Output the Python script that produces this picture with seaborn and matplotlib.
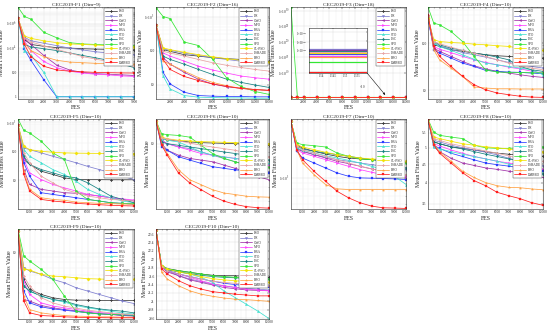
import numpy as np
import matplotlib
matplotlib.use("Agg")
import matplotlib.pyplot as plt
import seaborn as sns
from matplotlib.ticker import FixedLocator, FuncFormatter, NullFormatter, NullLocator, LogLocator, MultipleLocator, FixedFormatter

ALGS = ['PSO', 'DE', 'GWO', 'MFO', 'HBA', 'STO', 'LSC', 'SPO', 'CL-PSO', 'LSHADE', 'BBO', 'DMBBO']
COLORS = ['#3a3a3a', '#7f7fd0', '#a030a8', '#ff40ff', '#2a3cff', '#40e0d0',
          '#148080', '#33e633', '#f2e200', '#e8a4a4', '#ffa040', '#ff1f1f']
MARKERS = ['P', 'v', '<', '>', 's', '^', 'd', 'o', 'D', 'P', '*', 's']

TITLES = ['CEC2019-F1 (Dim=9)', 'CEC2019-F2 (Dim=16)', 'CEC2019-F3 (Dim=18)', 'CEC2019-F4 (Dim=10)',
          'CEC2019-F5 (Dim=10)', 'CEC2019-F6 (Dim=10)', 'CEC2019-F7 (Dim=10)', 'CEC2019-F8 (Dim=10)',
          'CEC2019-F9 (Dim=10)', 'CEC2019-F10 (Dim=10)']

F1_FES = [0, 500, 1000, 2000, 3000, 4000, 5000, 6000, 7000, 8000, 9000]
F1 = {
    'PSO': [2.8e6, 5.0e4, 2.0e4, 1.4e4, 1.1e4, 1.0e4, 8.9e3, 8.3e3, 7.9e3, 7.6e3, 7.2e3],
    'DE': [2.8e6, 7.9e4, 4.0e4, 2.5e4, 1.6e4, 1.0e4, 7.1e3, 5.0e3, 4.0e3, 3.2e3, 2.8e3],
    'GWO': [2.8e6, 6.3e4, 2.0e4, 2.5e3, 400, 160, 100, 79, 71, 63, 56],
    'MFO': [2.8e6, 4.0e4, 6.3e3, 790, 250, 126, 89, 71, 63, 52, 47],
    'HBA': [2.8e6, 7.9e3, 1.0e3, 25, 1, 1, 1, 1, 1, 1, 1],
    'STO': [2.8e6, 6.3e3, 2.8e3, 100, 1, 1, 1, 1, 1, 1, 1],
    'LSC': [2.8e6, 2.0e4, 1.26e4, 8.9e3, 6.3e3, 4.0e3, 2.5e3, 1.6e3, 1.0e3, 500, 250],
    'SPO': [2.3e7, 4.0e6, 2.4e6, 2.0e5, 7.1e4, 2.8e4, 2.2e4, 2.0e4, 1.8e4, 1.7e4, 1.6e4],
    'CL-PSO': [2.8e6, 1.0e5, 6.3e4, 4.0e4, 2.8e4, 2.2e4, 2.0e4, 1.8e4, 1.6e4, 1.4e4, 1.26e4],
    'LSHADE': [2.8e6, 6.3e4, 3.2e4, 1.6e4, 7.9e3, 4.0e3, 2.0e3, 1.26e3, 790, 500, 320],
    'BBO': [2.8e6, 2.5e4, 6.3e3, 2.0e3, 1.0e3, 710, 630, 560, 525, 500, 480],
    'DMBBO': [2.8e6, 2.0e4, 2.0e3, 320, 160, 126, 112, 100, 95, 91, 89],
}

F2_FES = [0, 1000, 2000, 4000, 6000, 8000, 10000, 12000, 14000, 16000]
F2 = {
    'PSO': [562, 107, 95, 76, 69, 62, 58, 55, 52, 49],
    'DE': [562, 112, 102, 85, 72, 62, 55, 49, 46, 44],
    'GWO': [562, 62, 40, 23, 14.5, 10.5, 8.7, 7.8, 7.2, 6.8],
    'MFO': [562, 85, 69, 49, 35, 27, 22, 18, 16, 14.5],
    'HBA': [562, 23, 10.5, 6.0, 4.8, 4.6, 4.5, 4.5, 4.4, 4.4],
    'STO': [562, 18.2, 7.5, 4.8, 4.3, 4.2, 4.1, 4.1, 4.0, 4.0],
    'LSC': [562, 69, 55, 40, 28, 20, 14.5, 11.7, 9.8, 8.3],
    'SPO': [1820, 1000, 870, 178, 141, 56, 15.8, 8.9, 6.3, 5.2],
    'CL-PSO': [562, 120, 107, 89, 76, 66, 58, 52, 49, 46],
    'LSHADE': [562, 95, 85, 69, 55, 44, 37, 32, 28, 25],
    'BBO': [562, 49, 40, 25, 16.2, 11.7, 9.3, 7.8, 7.2, 6.8],
    'DMBBO': [562, 55, 28, 17.4, 13.2, 10.5, 8.9, 7.8, 7.2, 6.8],
}

F3_FES = [0, 1000, 2000, 4000, 6000, 8000, 10000, 12000, 14000, 16000, 18000]
F3 = {
    'PSO': [111.0, 111.0, 111.0, 111.0, 111.0, 111.0, 111.0, 111.0, 111.0, 111.0, 111.0],
    'DE': [113.0, 113.0, 113.0, 113.0, 113.0, 113.0, 113.0, 113.0, 113.0, 113.0, 113.0],
    'GWO': [112.5, 112.5, 112.5, 112.5, 112.5, 112.5, 112.5, 112.5, 112.5, 112.5, 112.5],
    'MFO': [109.1, 109.1, 109.1, 109.1, 109.1, 109.1, 109.1, 109.1, 109.1, 109.1, 109.1],
    'HBA': [110.2, 110.2, 110.2, 110.2, 110.2, 110.2, 110.2, 110.2, 110.2, 110.2, 110.2],
    'STO': [100.5, 100.5, 100.5, 100.5, 100.5, 100.5, 100.5, 100.5, 100.5, 100.5, 100.5],
    'LSC': [112.0, 112.0, 112.0, 112.0, 112.0, 112.0, 112.0, 112.0, 112.0, 112.0, 112.0],
    'SPO': [1.5e31, 105.9, 105.9, 105.9, 105.9, 105.9, 105.9, 105.9, 105.9, 105.9, 105.9],
    'CL-PSO': [110.7, 110.7, 110.7, 110.7, 110.7, 110.7, 110.7, 110.7, 110.7, 110.7, 110.7],
    'LSHADE': [111.4, 111.4, 111.4, 111.4, 111.4, 111.4, 111.4, 111.4, 111.4, 111.4, 111.4],
    'BBO': [108.4, 108.4, 108.4, 108.4, 108.4, 108.4, 108.4, 108.4, 108.4, 108.4, 108.4],
    'DMBBO': [100.3, 100.3, 100.3, 100.3, 100.3, 100.3, 100.3, 100.3, 100.3, 100.3, 100.3],
}

FES10 = [0, 500, 1000, 2000, 3000, 4000, 5000, 6000, 7000, 8000, 9000, 10000]
F4 = {
    'PSO': [366, 92, 85, 72, 67, 61.5, 56.7, 54, 52.3, 50.5, 48.2, 48.2],
    'DE': [366, 100, 88, 74, 63, 56.7, 50.5, 44.4, 39, 34.8, 32.1, 29.6],
    'GWO': [337, 78, 67, 52.3, 41, 33, 28.5, 25.2, 23.2, 21.4, 19.8, 18.8],
    'MFO': [337, 85, 74, 63, 52.3, 44.4, 39, 34.8, 31, 28.5, 25.5, 23.2],
    'HBA': [337, 72, 61.5, 48.2, 37.8, 32.1, 26.5, 25.2, 24.4, 24.0, 23.2, 22.5],
    'STO': [366, 100, 85, 70, 56.7, 45.6, 37.8, 34.8, 32.1, 29.6, 27.3, 21.4],
    'LSC': [337, 108, 92, 78, 70, 61.5, 56.7, 50.5, 44.4, 32.1, 27.3, 25.2],
    'SPO': [577, 265, 244, 176, 108, 52.3, 27.3, 24.4, 24.0, 23.8, 23.6, 23.5],
    'CL-PSO': [337, 118, 108, 103, 100, 95, 92, 88, 85, 78, 74, 70],
    'LSHADE': [366, 108, 97, 82, 70, 61.5, 52.3, 44.4, 37.8, 33, 29.6, 27.3],
    'BBO': [397, 72, 44.4, 29.6, 19.8, 11.8, 11.2, 10.8, 10.8, 10.7, 10.7, 10.7],
    'DMBBO': [397, 85, 52.3, 32.1, 19.8, 13.2, 10.3, 8.8, 8.1, 7.5, 7.2, 7.1],
}
F5 = {
    'PSO': [831, 52, 35, 20.4, 15.7, 12.0, 10.5, 10.4, 10.4, 10.3, 10.3, 10.3],
    'DE': [831, 130, 114, 88, 67, 52, 40, 30, 23.3, 17.9, 13.7, 10.5],
    'GWO': [831, 23.3, 7.1, 4.8, 4.2, 3.66, 3.5, 3.2, 2.8, 2.46, 2.15, 1.89],
    'MFO': [831, 52, 17.9, 10.5, 7.1, 5.4, 4.2, 3.2, 2.8, 2.46, 2.25, 2.04],
    'HBA': [831, 40, 13.7, 3.66, 3.2, 2.8, 2.46, 2.15, 1.89, 1.65, 1.57, 1.45],
    'STO': [831, 114, 67, 40, 23.3, 15.7, 9.2, 4.8, 3.2, 2.46, 1.89, 1.65],
    'LSC': [831, 67, 35, 23.3, 17.9, 13.7, 12.0, 8.1, 4.8, 2.8, 2.15, 1.65],
    'SPO': [1303, 530, 429, 221, 88, 52, 4.2, 2.15, 1.89, 1.65, 1.57, 1.53],
    'CL-PSO': [831, 149, 114, 100, 92, 88, 86, 85, 84, 84, 83, 83],
    'LSHADE': [831, 88, 40, 13.7, 8.1, 4.8, 3.66, 2.8, 2.46, 2.15, 2.04, 1.89],
    'BBO': [831, 20.4, 4.8, 2.46, 2.15, 2.0, 1.74, 1.65, 1.57, 1.53, 1.49, 1.45],
    'DMBBO': [831, 15.7, 4.2, 2.15, 1.89, 1.74, 1.57, 1.49, 1.41, 1.34, 1.30, 1.27],
}
F6 = {
    'PSO': [19.1, 11.5, 11.2, 10.8, 10.5, 10.3, 10.2, 10.1, 10.0, 9.9, 9.7, 9.55],
    'DE': [19.1, 11.0, 10.0, 9.12, 8.71, 7.94, 7.24, 6.61, 6.03, 5.50, 5.01, 4.57],
    'GWO': [19.1, 10.0, 8.32, 7.24, 6.61, 6.31, 6.03, 5.50, 5.01, 4.57, 3.98, 3.63],
    'MFO': [19.1, 11.0, 10.0, 9.12, 8.32, 7.59, 7.24, 6.92, 6.61, 6.31, 5.86, 5.50],
    'HBA': [19.1, 9.12, 8.32, 6.92, 6.31, 5.75, 5.25, 5.01, 4.79, 4.70, 4.57, 4.45],
    'STO': [19.1, 11.5, 11.0, 10.5, 9.12, 7.94, 7.24, 6.92, 6.61, 6.31, 6.03, 5.75],
    'LSC': [19.1, 10.5, 10.0, 9.55, 9.12, 8.71, 8.32, 7.94, 7.59, 7.24, 6.92, 6.31],
    'SPO': [19.1, 13.2, 12.9, 12.6, 12.0, 9.55, 7.59, 6.61, 6.03, 5.50, 5.25, 5.2],
    'CL-PSO': [19.1, 12.0, 11.5, 11.0, 10.8, 10.6, 10.5, 10.4, 10.3, 10.2, 10.1, 10.0],
    'LSHADE': [19.1, 11.8, 11.4, 10.8, 10.2, 9.55, 9.12, 8.71, 8.32, 7.7, 7.24, 6.92],
    'BBO': [19.1, 10.0, 7.59, 4.79, 3.63, 3.16, 2.75, 2.51, 2.40, 2.29, 2.25, 2.23],
    'DMBBO': [19.1, 9.55, 7.24, 4.37, 3.31, 2.75, 2.29, 2.0, 1.82, 1.71, 1.66, 1.64],
}
F7 = {
    'PSO': [3060, 1931, 1807, 1693, 1605, 1533, 1483, 1455, 1436, 1417, 1389, 1362],
    'DE': [3060, 1807, 1693, 1585, 1503, 1436, 1389, 1344, 1301, 1259, 1218, 1179],
    'GWO': [3060, 1774, 1693, 1585, 1483, 1389, 1327, 1259, 1195, 1140, 1068, 1000],
    'MFO': [3060, 1750, 1638, 1533, 1436, 1344, 1259, 1179, 1118, 1068, 1047, 1033],
    'HBA': [3060, 1693, 1483, 1344, 1218, 1104, 1033, 1000, 994, 987, 980, 968],
    'STO': [3060, 1807, 1727, 1638, 1553, 1483, 1417, 1344, 1259, 1179, 1033, 877],
    'LSC': [3060, 1868, 1774, 1693, 1638, 1585, 1533, 1483, 1436, 1389, 1301, 1218],
    'SPO': [3060, 1995, 1931, 1893, 1844, 1638, 1533, 1455, 1436, 1417, 1389, 1344],
    'CL-PSO': [3060, 1931, 1844, 1750, 1660, 1585, 1533, 1483, 1455, 1436, 1417, 1389],
    'LSHADE': [3060, 1868, 1750, 1638, 1533, 1436, 1344, 1259, 1195, 1140, 1104, 1068],
    'BBO': [3060, 1750, 1344, 1068, 877, 805, 794, 794, 793, 793, 792, 792],
    'DMBBO': [3060, 1750, 1436, 1140, 936, 768, 674, 611, 572, 553, 550, 546],
}
F8 = {
    'PSO': [5.99, 5.19, 5.13, 5.03, 4.98, 4.93, 4.88, 4.83, 4.80, 4.77, 4.75, 4.74],
    'DE': [5.99, 5.24, 5.19, 5.08, 5.00, 4.93, 4.86, 4.78, 4.68, 4.59, 4.51, 4.45],
    'GWO': [5.99, 5.03, 4.88, 4.68, 4.54, 4.47, 4.40, 4.36, 4.31, 4.27, 4.23, 4.14],
    'MFO': [5.99, 5.13, 5.06, 4.93, 4.83, 4.73, 4.66, 4.59, 4.54, 4.49, 4.42, 4.36],
    'HBA': [5.99, 5.08, 4.98, 4.83, 4.73, 4.63, 4.54, 4.49, 4.45, 4.40, 4.36, 4.31],
    'STO': [5.99, 5.03, 4.96, 4.88, 4.80, 4.73, 4.66, 4.59, 4.51, 4.45, 4.36, 4.27],
    'LSC': [5.99, 5.19, 5.13, 5.03, 4.96, 4.88, 4.80, 4.73, 4.66, 4.59, 4.45, 4.23],
    'SPO': [5.99, 5.52, 5.41, 5.35, 5.30, 5.08, 5.00, 4.98, 4.98, 5.00, 5.00, 5.03],
    'CL-PSO': [5.99, 5.35, 5.30, 5.21, 5.13, 5.08, 5.03, 5.00, 4.96, 4.92, 4.90, 4.88],
    'LSHADE': [5.99, 5.30, 5.24, 5.13, 5.05, 4.97, 4.90, 4.83, 4.75, 4.66, 4.62, 4.59],
    'BBO': [5.99, 5.13, 4.88, 4.59, 4.31, 4.14, 4.01, 3.93, 3.89, 3.88, 3.85, 3.83],
    'DMBBO': [5.99, 5.10, 4.83, 4.54, 4.27, 4.06, 3.93, 3.77, 3.69, 3.62, 3.53, 3.47],
}
F9 = {
    'PSO': [16.5, 5.41, 4.30, 3.83, 3.55, 3.41, 3.36, 3.36, 3.34, 3.34, 3.34, 3.34],
    'DE': [16.5, 7.08, 6.56, 6.07, 5.41, 5.01, 4.47, 4.14, 3.83, 3.55, 3.29, 3.11],
    'GWO': [16.5, 3.41, 3.29, 2.97, 2.82, 2.71, 2.63, 2.55, 2.47, 2.42, 2.36, 2.33],
    'MFO': [16.5, 5.21, 3.83, 3.16, 2.93, 2.82, 2.71, 2.61, 2.53, 2.47, 2.42, 2.36],
    'HBA': [16.5, 4.14, 3.16, 2.88, 2.75, 2.67, 2.59, 2.51, 2.45, 2.42, 2.38, 2.36],
    'STO': [16.5, 4.64, 4.14, 3.69, 3.41, 3.21, 2.97, 2.82, 2.71, 2.61, 2.51, 2.45],
    'LSC': [16.5, 4.64, 4.14, 3.69, 3.41, 3.29, 3.04, 2.88, 2.75, 2.67, 2.61, 2.51],
    'SPO': [17.1, 9.26, 8.25, 6.81, 5.41, 3.69, 2.61, 2.51, 2.45, 2.42, 2.40, 2.38],
    'CL-PSO': [16.5, 6.92, 6.71, 6.07, 5.84, 5.75, 5.62, 5.50, 5.46, 5.41, 5.41, 5.41],
    'LSHADE': [16.5, 5.84, 4.64, 3.55, 3.16, 2.93, 2.80, 2.67, 2.59, 2.51, 2.45, 2.42],
    'BBO': [16.5, 3.69, 2.71, 2.51, 2.42, 2.36, 2.33, 2.31, 2.29, 2.29, 2.27, 2.27],
    'DMBBO': [16.5, 3.29, 2.51, 2.36, 2.33, 2.29, 2.27, 2.25, 2.25, 2.24, 2.24, 2.24],
}
F10 = {
    'PSO': [22.70, 21.85, 21.78, 21.73, 21.69, 21.65, 21.62, 21.61, 21.61, 21.59, 21.58, 21.57],
    'DE': [22.70, 21.81, 21.73, 21.61, 21.53, 21.47, 21.41, 21.37, 21.33, 21.31, 21.29, 21.27],
    'GWO': [22.70, 21.81, 21.70, 21.61, 21.51, 21.45, 21.39, 21.33, 21.30, 21.27, 21.26, 21.25],
    'MFO': [22.70, 21.81, 21.73, 21.65, 21.57, 21.49, 21.42, 21.37, 21.33, 21.29, 21.27, 21.25],
    'HBA': [22.70, 21.81, 21.73, 21.65, 21.59, 21.53, 21.48, 21.43, 21.40, 21.37, 21.35, 21.33],
    'STO': [22.70, 21.83, 21.77, 21.70, 21.65, 21.57, 21.45, 21.25, 21.09, 20.93, 20.77, 20.59],
    'LSC': [22.70, 21.83, 21.75, 21.70, 21.66, 21.62, 21.59, 21.57, 21.56, 21.54, 21.54, 21.53],
    'SPO': [22.70, 21.85, 21.77, 21.73, 21.69, 21.65, 21.61, 21.59, 21.57, 21.57, 21.54, 21.53],
    'CL-PSO': [22.70, 21.83, 21.77, 21.70, 21.65, 21.59, 21.54, 21.51, 21.49, 21.47, 21.46, 21.45],
    'LSHADE': [22.70, 21.81, 21.73, 21.65, 21.59, 21.53, 21.48, 21.45, 21.43, 21.41, 21.39, 21.37],
    'BBO': [22.70, 21.69, 21.53, 21.37, 21.25, 21.17, 21.12, 21.08, 21.05, 21.04, 21.02, 21.00],
    'DMBBO': [22.70, 21.77, 21.65, 21.49, 21.37, 21.29, 21.23, 21.20, 21.17, 21.15, 21.13, 21.13],
}

PANELS = [
    (F1_FES, F1, 'log', (0.65, 2.4e7), [1, 100, 1e4, 1e6], range(1000, 9001, 1000), 9000),
    (F2_FES, F2, 'log', (3.8, 1900), [10, 100, 1000], range(2000, 16001, 2000), 16000),
    (F3_FES, F3, 'log', (30, 1.6e31), [1e10, 1e15, 1e20, 1e25, 1e30], range(2000, 18001, 2000), 18000),
    (FES10, F4, 'log', (6.56, 580), [10, 100], range(1000, 10001, 1000), 10000),
    (FES10, F5, 'log', (1.0, 1310), [10, 100, 1000], range(1000, 10001, 1000), 10000),
    (FES10, F6, 'log', (1.6, 20.0), [10], range(1000, 10001, 1000), 10000),
    (FES10, F7, 'log', (540, 3210), [1000], range(1000, 10001, 1000), 10000),
    (FES10, F8, 'log', (3.39, 6.0), [3.5, 4, 4.5, 5, 5.5], range(1000, 10001, 1000), 10000),
    (FES10, F9, 'log', (2.18, 17.2), [10], range(1000, 10001, 1000), 10000),
    (FES10, F10, 'linear', (20.58, 22.72), [20.6, 20.8, 21, 21.2, 21.4, 21.6, 21.8, 22, 22.2, 22.4, 22.6],
     range(1000, 10001, 1000), 10000),
]

sns.set_theme(style='white')
plt.rcParams['font.family'] = ['Liberation Serif', 'DejaVu Serif']
plt.rcParams['mathtext.fontset'] = 'stix'


def yfmt(v, pos=None):
    if v >= 999:
        return r'1×10$^{%d}$' % int(round(np.log10(v)))
    return '%g' % v


W, H = 550.0, 334.0
COL_L = [18, 156, 291, 428]
COL_W = [116, 113, 115, 115]
ROW_T = [7, 119, 229]
ROW_H = [92, 90, 90]

fig = plt.figure(figsize=(5.5, 3.34), dpi=100)
fig.patch.set_facecolor('white')

for i, (fes, data, yscale, ylim, yticks, xticks, xmax) in enumerate(PANELS):
    r, c = divmod(i, 4)
    ax = fig.add_axes([COL_L[c] / W, 1 - (ROW_T[r] + ROW_H[r]) / H, COL_W[c] / W, ROW_H[r] / H])
    for name, col, mk in zip(ALGS, COLORS, MARKERS):
        sns.lineplot(x=fes, y=data[name], ax=ax, color=col, marker=mk, markersize=1.7,
                     markeredgewidth=0.2, markeredgecolor=col, linewidth=0.55, label=name)
    ax.set_yscale(yscale)
    ax.set_ylim(*ylim)
    ax.set_xlim(0, xmax)
    ax.yaxis.set_major_locator(FixedLocator(yticks))
    ax.yaxis.set_major_formatter(FuncFormatter(yfmt))
    ax.yaxis.set_minor_formatter(NullFormatter())
    if yscale == 'log' and i not in (2, 7):
        ax.yaxis.set_minor_locator(LogLocator(base=10, subs=np.arange(2, 10)))
    else:
        ax.yaxis.set_minor_locator(NullLocator())
    ax.xaxis.set_major_locator(FixedLocator(list(xticks)))
    ax.xaxis.set_minor_locator(MultipleLocator((xticks[1] - xticks[0]) / 2))
    ax.grid(which='major', color='#d9d9d9', linewidth=0.3)
    ax.grid(which='minor', color='#ececec', linewidth=0.25)
    ax.set_axisbelow(True)
    for s in ax.spines.values():
        s.set_linewidth(0.4)
        s.set_color('#262626')
    ax.tick_params(which='both', direction='in', length=1.2, width=0.3, labelsize=2.6, pad=1.0,
                   top=True, right=True, colors='#262626')
    ax.tick_params(which='minor', length=0.6)
    ax.set_title(TITLES[i], fontsize=3.9, pad=1.5)
    ax.set_xlabel('FES', fontsize=4.2, labelpad=0.8)
    ax.set_ylabel('Mean Fitness Value', fontsize=4.2, labelpad=1.0)
    leg = ax.legend(loc='upper right', fontsize=2.4, frameon=True, fancybox=False, edgecolor='#333333',
                    framealpha=1, borderpad=0.3, labelspacing=0.2, handlelength=3.4,
                    handleheight=0.5, handletextpad=0.6, borderaxespad=0.35)
    leg.get_frame().set_linewidth(0.3)

    if i == 2:
        axin = ax.inset_axes([0.157, 0.283, 0.504, 0.49])
        for name, col in zip(ALGS, COLORS):
            sns.lineplot(x=fes, y=data[name], ax=axin, color=col, linewidth=0.9, legend=False)
        axin.set_yscale('log')
        axin.set_xlim(15347, 15592)
        axin.set_ylim(100, 125.9)
        axin.xaxis.set_major_locator(FixedLocator([15400, 15450, 15500, 15550]))
        axin.xaxis.set_major_formatter(FixedFormatter(['1.54', '1.545', '1.55', '1.555']))
        iy = [10 ** 2.05, 10 ** 2.07, 10 ** 2.09]
        axin.yaxis.set_major_locator(FixedLocator(iy))
        axin.yaxis.set_major_formatter(FixedFormatter([r'1×10$^{2.05}$', r'1×10$^{2.07}$', r'1×10$^{2.09}$']))
        axin.yaxis.set_minor_locator(NullLocator())
        axin.yaxis.set_minor_formatter(NullFormatter())
        axin.set_xlabel('')
        axin.set_ylabel('')
        axin.grid(which='major', color='#d9d9d9', linewidth=0.3)
        axin.set_facecolor('white')
        for s in axin.spines.values():
            s.set_linewidth(0.4)
            s.set_color('#262626')
        axin.tick_params(direction='in', length=1.0, width=0.3, labelsize=2.2, pad=0.8,
                         top=True, right=True, colors='#262626')
        axin.text(1.0, -0.22, r'×10$^{4}$', transform=axin.transAxes, fontsize=2.2,
                  ha='right', va='top', color='#262626')
        ax.annotate('', xy=(14750, 600), xycoords='data', xytext=(0.661, 0.283),
                    textcoords='axes fraction',
                    arrowprops=dict(arrowstyle='-|>', lw=0.4, color='#111111', mutation_scale=3,
                                    shrinkA=0, shrinkB=0))

fig.savefig('out.png', dpi=100, facecolor='white')
